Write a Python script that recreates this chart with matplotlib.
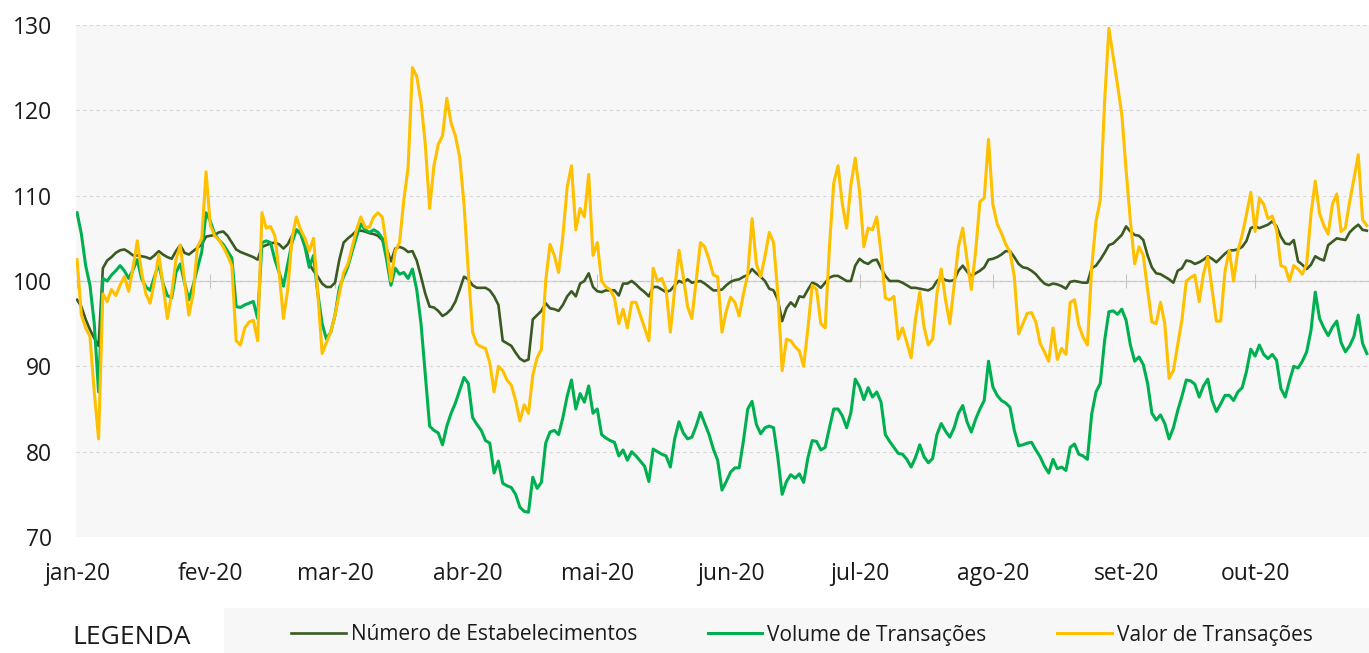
import pandas as pd
import matplotlib
matplotlib.use('Agg')
import matplotlib.pyplot as plt
import matplotlib.dates as mdates
from matplotlib.patches import Rectangle

START = '2020-01-01'
month_starts = ['2020-01-01', '2020-02-01', '2020-03-01', '2020-04-01', '2020-05-01',
                '2020-06-01', '2020-07-01', '2020-08-01', '2020-09-01', '2020-10-01']
month_labels = ['jan-20', 'fev-20', 'mar-20', 'abr-20', 'mai-20',
                'jun-20', 'jul-20', 'ago-20', 'set-20', 'out-20']
series_names = ['Número de Estabelecimentos', 'Volume de Transações', 'Valor de Transações']

# daily index values (base 100)
estabelecimentos = [
    97.8, 97.0, 95.5, 94.3, 93.3, 92.4, 101.5, 102.4, 102.8, 103.3,
    103.6, 103.7, 103.4, 103.0, 103.0, 102.9, 102.8, 102.6, 103.0, 103.5,
    103.1, 102.8, 102.6, 103.5, 104.2, 103.3, 103.1, 103.5, 103.9, 104.3,
    105.2, 105.3, 105.4, 105.7, 105.8, 105.3, 104.5, 103.7, 103.4, 103.2,
    103.0, 102.8, 102.5, 104.0, 104.2, 104.4, 104.5, 104.3, 103.8, 104.3,
    105.3, 106.0, 105.7, 104.5, 102.0, 101.2, 100.5, 99.7, 99.3, 99.3,
    99.8, 102.5, 104.5, 105.0, 105.4, 105.9, 105.9, 105.8, 105.6, 105.5,
    105.3, 104.8, 103.8, 102.3, 103.8, 104.0, 103.8, 103.4, 103.5, 102.4,
    100.5, 98.5, 97.0, 96.9, 96.5, 95.9, 96.2, 96.7, 97.6, 99.0,
    100.5, 100.2, 99.5, 99.2, 99.2, 99.2, 98.9, 98.2, 97.2, 93.0,
    92.7, 92.4, 91.6, 90.9, 90.6, 90.8, 95.5, 96.0, 96.5, 97.4,
    96.8, 96.7, 96.5, 97.2, 98.2, 98.8, 98.2, 99.7, 100.0, 100.9,
    99.3, 98.8, 98.7, 98.9, 98.9, 98.9, 98.3, 99.7, 99.7, 100.0,
    99.6, 99.1, 98.7, 98.2, 99.3, 99.3, 99.0, 98.7, 98.9, 99.5,
    100.0, 99.8, 100.2, 99.8, 99.9, 100.0, 99.7, 99.3, 98.9, 98.9,
    99.0, 99.5, 99.9, 100.1, 100.2, 100.5, 100.7, 101.4, 100.9, 100.5,
    100.0, 99.1, 98.9, 97.8, 95.3, 96.8, 97.5, 97.0, 98.2, 98.1,
    99.0, 99.8, 99.6, 99.2, 99.8, 100.4, 100.6, 100.6, 100.3, 100.0,
    100.0, 101.8, 102.6, 102.2, 102.0, 102.4, 102.5, 101.5, 100.6, 100.0,
    100.0, 100.0, 99.8, 99.5, 99.2, 99.2, 99.1, 99.0, 98.9, 99.2,
    100.0, 100.4, 100.1, 100.0, 100.1, 101.2, 101.8, 101.1, 100.6, 100.9,
    101.2, 101.6, 102.5, 102.6, 102.8, 103.1, 103.5, 103.5, 102.8, 102.0,
    101.6, 101.5, 101.2, 100.8, 100.2, 99.7, 99.5, 99.7, 99.6, 99.4,
    99.1, 99.9, 100.0, 99.9, 99.8, 99.8, 101.5, 101.8, 102.5, 103.3,
    104.2, 104.4, 104.9, 105.4, 106.4, 105.8, 105.4, 105.3, 104.8, 103.0,
    101.6, 100.9, 100.8, 100.5, 100.2, 99.8, 101.2, 101.5, 102.4, 102.3,
    102.0, 102.2, 102.5, 102.9, 102.6, 102.2, 102.7, 103.2, 103.6, 103.6,
    103.7, 104.0, 104.7, 106.2, 106.4, 106.2, 106.4, 106.6, 107.0, 106.4,
    105.2, 104.4, 104.3, 104.8, 102.3, 101.9, 101.4, 101.9, 102.9, 102.6,
    102.4, 104.2, 104.6, 105.0, 104.9, 104.8, 105.7, 106.2, 106.6, 106.0,
    105.9,
]

volume = [
    108.0, 105.5, 101.8, 99.5, 95.0, 87.0, 100.3, 100.0, 100.7, 101.2,
    101.8, 101.2, 100.3, 101.3, 102.5, 100.3, 99.3, 98.9, 100.5, 102.0,
    99.7, 98.3, 98.0, 101.0, 102.0, 99.8, 97.8, 99.5, 101.5, 103.4,
    108.0, 107.0, 105.5, 104.8, 104.3, 103.5, 102.7, 97.0, 96.9, 97.2,
    97.4, 97.6, 95.6, 104.5, 104.7, 104.5, 102.5, 101.0, 99.4, 102.0,
    104.5, 106.0, 105.5, 104.0, 101.6, 103.0, 98.5, 95.0, 93.2, 94.0,
    96.0, 99.2, 100.5, 101.7, 103.5, 105.2, 106.7, 106.0, 105.7, 106.0,
    105.7, 105.0, 102.5, 99.5, 101.5, 100.8, 101.0, 100.3, 101.4, 99.0,
    95.0, 89.0, 83.0, 82.5, 82.2, 80.8, 83.0, 84.5, 85.7, 87.2,
    88.7, 88.0, 84.0, 83.2, 82.5, 81.3, 81.0, 77.5, 78.9, 76.3,
    76.0, 75.8, 75.0, 73.5, 73.0, 72.9, 77.0, 75.7, 76.4, 81.0,
    82.3, 82.5, 82.0, 84.0, 86.5, 88.4, 85.0, 86.8, 85.8, 87.7,
    84.5, 85.0, 82.0, 81.6, 81.3, 81.1, 79.5, 80.2, 79.0, 80.0,
    79.5, 78.9, 78.3, 76.5, 80.3, 80.0, 79.7, 79.5, 78.2, 81.5,
    83.5, 82.2, 81.5, 81.7, 83.0, 84.6, 83.3, 82.0, 80.3, 79.0,
    75.5, 76.5, 77.6, 78.1, 78.1, 81.3, 85.0, 85.9, 83.2, 82.1,
    82.8, 83.0, 82.8, 79.3, 75.0, 76.5, 77.3, 76.9, 77.4, 76.4,
    79.3, 81.3, 81.2, 80.2, 80.5, 82.8, 85.0, 85.0, 84.2, 82.8,
    84.6, 88.5, 87.6, 86.1, 87.5, 86.4, 87.0, 85.8, 82.0, 81.2,
    80.5, 79.8, 79.7, 79.1, 78.2, 79.3, 80.8, 79.4, 78.7, 79.2,
    82.0, 83.3, 82.4, 81.7, 82.8, 84.5, 85.4, 83.5, 82.3, 83.8,
    85.0, 86.0, 90.6, 87.6, 86.6, 86.0, 85.7, 85.2, 82.5, 80.7,
    80.8, 81.0, 81.1, 80.2, 79.4, 78.3, 77.5, 79.1, 78.0, 78.2,
    77.8, 80.5, 80.9, 79.7, 79.5, 79.1, 84.4, 87.0, 88.0, 93.0,
    96.4, 96.5, 96.1, 96.7, 95.4, 92.5, 90.6, 91.1, 90.2, 88.0,
    84.5, 83.7, 84.3, 83.3, 81.5, 82.8, 84.8, 86.5, 88.4, 88.3,
    87.9, 86.4, 87.7, 88.5, 86.0, 84.7, 85.6, 86.6, 86.6, 86.0,
    87.0, 87.5, 89.4, 92.0, 91.2, 92.5, 91.4, 90.9, 91.4, 90.7,
    87.4, 86.4, 88.3, 90.0, 89.8, 90.6, 91.7, 94.2, 98.7, 95.6,
    94.5, 93.6, 94.6, 95.3, 92.8, 91.7, 92.4, 93.5, 96.0, 92.7,
    91.5,
]

valor = [
    102.5, 96.0, 94.5, 93.5, 87.0, 81.5, 98.5, 97.6, 99.0, 98.3,
    99.5, 100.5, 98.8, 101.5, 104.7, 101.0, 98.5, 97.4, 100.0, 103.1,
    99.5, 95.6, 98.5, 102.5, 104.2, 100.0, 96.0, 98.5, 104.0, 105.0,
    112.8, 106.5, 105.3, 104.8, 104.0, 103.0, 101.8, 93.0, 92.5, 94.5,
    95.2, 95.4, 93.0, 108.0, 106.2, 106.4, 105.3, 101.0, 95.6, 99.0,
    105.0, 107.5, 106.0, 105.0, 103.5, 105.0, 98.5, 91.5, 92.8, 94.0,
    96.0, 98.5, 101.0, 102.0, 104.0, 106.0, 107.5, 106.3, 106.3, 107.5,
    108.0, 107.5, 104.0, 100.0, 103.5, 104.5, 109.5, 113.3, 125.0, 124.0,
    121.0, 116.0, 108.5, 113.5, 116.0, 117.0, 121.4, 118.5, 117.0, 114.5,
    109.0, 101.1, 94.0, 92.6, 92.3, 92.1, 90.4, 87.0, 90.0, 89.5,
    88.4, 87.8, 86.0, 83.6, 85.5, 84.5, 89.0, 91.0, 92.0, 100.0,
    104.3, 103.0, 101.0, 105.3, 111.0, 113.5, 106.0, 108.5, 107.5, 112.5,
    103.0, 104.5, 100.0, 99.3, 99.0, 98.0, 95.0, 96.7, 94.5, 97.5,
    97.5, 96.0, 94.5, 93.0, 101.5, 100.0, 100.3, 99.0, 94.0, 99.0,
    103.6, 100.5, 97.0, 95.6, 100.0, 104.5, 104.0, 102.5, 100.7, 100.5,
    94.0, 96.5, 98.1, 97.5, 95.9, 98.5, 100.8, 107.3, 102.0, 100.5,
    102.9, 105.7, 104.5, 98.5, 89.5, 93.2, 93.0, 92.3, 91.8, 90.0,
    94.5, 99.5, 99.0, 95.0, 94.5, 104.0, 111.5, 113.5, 109.0, 106.2,
    111.3, 114.4, 110.5, 104.0, 106.2, 106.0, 107.5, 103.3, 98.0, 97.8,
    98.2, 93.2, 94.5, 92.8, 91.0, 95.5, 98.7, 94.6, 92.5, 93.2,
    98.5, 101.4, 97.8, 95.0, 99.5, 104.0, 106.2, 102.5, 99.0, 103.5,
    109.3, 109.7, 116.6, 109.0, 106.7, 105.6, 104.3, 103.4, 100.5, 93.8,
    95.0, 96.2, 96.3, 95.2, 92.7, 91.7, 90.6, 94.5, 90.8, 92.1,
    91.4, 97.5, 97.8, 94.8, 93.4, 92.5, 101.6, 107.0, 109.5, 121.0,
    129.6, 126.3, 123.0, 119.5, 113.0, 107.0, 102.0, 104.0, 103.0, 99.0,
    95.2, 95.0, 97.5, 95.0, 88.6, 89.5, 92.5, 95.5, 100.0, 100.4,
    100.7, 97.6, 100.8, 102.8, 99.0, 95.3, 95.3, 101.1, 103.6, 100.0,
    103.5, 105.4, 107.8, 110.4, 105.8, 109.7, 109.0, 107.3, 107.6, 106.0,
    101.8, 101.6, 100.0, 101.8, 101.4, 100.8, 102.0, 107.8, 111.7, 107.9,
    106.5, 105.5, 109.0, 110.2, 105.8, 106.2, 109.3, 112.0, 114.8, 107.2,
    106.5,
]

colors = ['#3b5a22', '#00b050', '#ffc000']
widths = [1.9, 2.2, 2.2]

if __name__ == "__main__":
    plt.rcParams['font.family'] = ['Open Sans', 'DejaVu Sans']
    W, H = 1369, 653
    fig = plt.figure(figsize=(W / 100, H / 100), dpi=100)
    ax = fig.add_axes([76 / W, 116 / H, 1293 / W, 512 / H])
    ax.set_facecolor('#f7f7f7')

    for name, vals, c, lw in zip(series_names, [estabelecimentos, volume, valor], colors, widths):
        dates = pd.date_range(START, periods=len(vals), freq='D')
        ax.plot(dates, vals, color=c, lw=lw, label=name, solid_joinstyle='round')

    start = pd.Timestamp(START)
    ax.set_xlim(start - pd.Timedelta(hours=6), start + pd.Timedelta(days=300, hours=12))
    ax.set_ylim(70, 130)
    ax.set_yticks(range(70, 131, 10))
    ticks = pd.to_datetime(month_starts)
    ax.set_xticks(ticks, month_labels)
    ax.grid(axis='y', color='#d6d6d6', ls=(0, (3, 3)), lw=0.8)
    ax.set_axisbelow(True)
    for s in ax.spines.values():
        s.set_visible(False)
    ax.tick_params(axis='both', length=0, labelsize=16.5, colors='#1a1a1a')
    ax.tick_params(axis='y', pad=17)
    ax.tick_params(axis='x', pad=18)

    # base-100 reference line with month ticks
    sec = ax.secondary_xaxis(0.5)
    sec.set_xticks(mdates.date2num(ticks))
    sec.tick_params(direction='inout', length=10, width=0.8, color='#c4c4c4',
                    labeltop=False, labelbottom=False)
    for side in ['top', 'bottom']:
        sec.spines[side].set_color('#c4c4c4')
        sec.spines[side].set_linewidth(0.9)

    # legend strip
    fig.add_artist(Rectangle((224 / W, 0), 1 - 224 / W, 45 / H, transform=fig.transFigure,
                             facecolor='#f7f7f7', edgecolor='none', zorder=0))
    fig.text(132 / W, 16 / H, 'LEGENDA', ha='center', va='center', fontsize=19, color='#1a1a1a')
    fig.legend(ax.get_lines(), series_names, loc='center', bbox_to_anchor=(802 / W, 18 / H),
               ncol=3, frameon=False, fontsize=15, handlelength=2.6, handletextpad=0.25,
               columnspacing=3.4, labelcolor='#1a1a1a')

    plt.savefig('out.png', dpi=100)
    plt.close()
